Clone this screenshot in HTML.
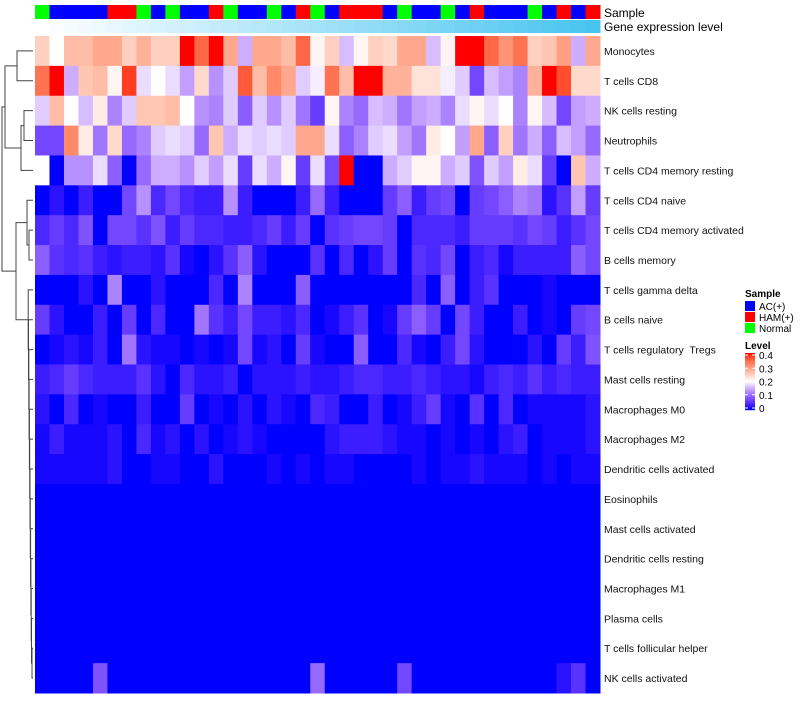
<!DOCTYPE html>
<html><head><meta charset="utf-8"><style>
body{margin:0;background:#fff;font-family:"Liberation Sans",Arial,sans-serif}
svg text{font-family:"Liberation Sans",Arial,sans-serif;white-space:pre}
</style></head><body>
<svg id="chart" width="800" height="700" xmlns="http://www.w3.org/2000/svg"></svg>
<script>
const rowLabels=["Monocytes","T cells CD8","NK cells resting","Neutrophils","T cells CD4 memory resting","T cells CD4 naive","T cells CD4 memory activated","B cells memory","T cells gamma delta","B cells naive","T cells regulatory  Tregs","Mast cells resting","Macrophages M0","Macrophages M2","Dendritic cells activated","Eosinophils","Mast cells activated","Dendritic cells resting","Macrophages M1","Plasma cells","T cells follicular helper","NK cells activated"];
const sampleGroups="GBBBBRRGBGBBRGBBGBRGBRRRBGBBGBRBBBGBRBR".split("");
const r0=[0.25,0.2,0.27,0.27,0.29,0.29,0.25,0.28,0.25,0.25,0.4,0.35,0.4,0.29,0.15,0.29,0.29,0.27,0.35,0.21,0.25,0.16,0.21,0.25,0.24,0.29,0.29,0.16,0.21,0.4,0.4,0.35,0.31,0.34,0.25,0.26,0.3,0.15,0.29];
const r1=[0.34,0.4,0.15,0.26,0.27,0.21,0.38,0.18,0.2,0.18,0.14,0.24,0.13,0.17,0.36,0.27,0.32,0.29,0.17,0.19,0.34,0.27,0.4,0.4,0.28,0.28,0.23,0.23,0.19,0.17,0.07,0.16,0.14,0.12,0.28,0.4,0.37,0.24,0.24];
const r2=[0.17,0.27,0.2,0.16,0.22,0.12,0.17,0.26,0.26,0.27,0.2,0.13,0.12,0.17,0.09,0.17,0.13,0.17,0.11,0.06,0.21,0.12,0.1,0.16,0.15,0.11,0.14,0.15,0.12,0.18,0.21,0.18,0.2,0.12,0.21,0.16,0.07,0.14,0.15];
const r3=[0.07,0.07,0.32,0.22,0.11,0.24,0.1,0.12,0.17,0.18,0.17,0.1,0.26,0.15,0.18,0.17,0.18,0.17,0.29,0.29,0.18,0.09,0.12,0.17,0.18,0.14,0.11,0.22,0.2,0.14,0.29,0.09,0.25,0.11,0.15,0.09,0.16,0.14,0.1];
const r4=[0.2,0,0.13,0.13,0.18,0.09,0,0.1,0.15,0.15,0.13,0.17,0.14,0.18,0.06,0.18,0.15,0.21,0.06,0.18,0.07,0.4,0,0,0.15,0.17,0.21,0.21,0.15,0.17,0.08,0.17,0.14,0.22,0.18,0.06,0,0.26,0.15];
const r5=[0,0.02,0,0.03,0,0,0.07,0.13,0.04,0.07,0.04,0.03,0.03,0.13,0.03,0,0,0,0.03,0.1,0.03,0,0,0,0.06,0.09,0.03,0.06,0.07,0,0.06,0.07,0.09,0.12,0.11,0.02,0.05,0.14,0.06];
const r6=[0.04,0.06,0.04,0.08,0,0.07,0.07,0.05,0.08,0.03,0.06,0.04,0.04,0.03,0.03,0.04,0.06,0.03,0.06,0,0.05,0.06,0.07,0.07,0.06,0,0.04,0.04,0.04,0.03,0.06,0.06,0.06,0.05,0.07,0.06,0.03,0.05,0.07];
const r7=[0.09,0.05,0.04,0.05,0.03,0.02,0.03,0.03,0.02,0.05,0.01,0,0.02,0.05,0.09,0.02,0,0,0,0.05,0,0.04,0,0.02,0.06,0,0.05,0.04,0.07,0,0.03,0.04,0.01,0.03,0.03,0.03,0.03,0.09,0.07];
const r8=[0,0,0,0.02,0,0.12,0,0,0.02,0,0,0,0.04,0,0.12,0,0,0,0.09,0,0,0,0,0,0,0,0.04,0,0.09,0,0.03,0.05,0,0,0,0.01,0,0,0];
const r9=[0.06,0.02,0,0,0.03,0,0.06,0,0.04,0,0,0.11,0.05,0.03,0.07,0.03,0.03,0.02,0.04,0,0.01,0.03,0.05,0,0.01,0.06,0.09,0.06,0,0.07,0.03,0,0,0.03,0,0.01,0,0.06,0.07];
const r10=[0,0.01,0.02,0.01,0.03,0,0.11,0.02,0.01,0.01,0,0.01,0,0.01,0.07,0.01,0.02,0,0.06,0.01,0,0,0.09,0,0,0.04,0.01,0,0.03,0.07,0.02,0,0,0,0.02,0,0.06,0.03,0.08];
const r11=[0.03,0.04,0.06,0.04,0.03,0.03,0.03,0.05,0.02,0,0.04,0.02,0.02,0.03,0,0.02,0.02,0.02,0.03,0.02,0.02,0.03,0.04,0.04,0.03,0.03,0.04,0.03,0.02,0.02,0.01,0.03,0.04,0.03,0.05,0.03,0.04,0.03,0.03];
const r12=[0.02,0,0.04,0,0.01,0,0,0.03,0,0,0.06,0,0.01,0,0.02,0,0.02,0.01,0,0.04,0.03,0,0,0.03,0,0.01,0.03,0.06,0.01,0,0.05,0,0.04,0,0.01,0.01,0.01,0.01,0.02];
const r13=[0.01,0.03,0.01,0.01,0.01,0.02,0,0.04,0.01,0.02,0,0.02,0,0.01,0.02,0.01,0,0,0,0,0.02,0.03,0.03,0.03,0.02,0.01,0.01,0,0.01,0,0.01,0,0.02,0.03,0,0.01,0.01,0.01,0.02];
const r14=[0.01,0.01,0.01,0.01,0.01,0.02,0,0,0.01,0.01,0,0,0.02,0,0,0,0.01,0,0.01,0,0.01,0.01,0,0,0,0,0.01,0,0.01,0.01,0.02,0.01,0.01,0.01,0,0.01,0,0.01,0.01];
const zeros=new Array(39).fill(0);
const r21=[0,0,0,0,0.08,0,0,0,0,0,0,0,0,0,0,0,0,0,0,0.1,0,0,0,0,0,0.07,0,0,0,0,0,0,0,0,0,0,0.02,0.05,0];
const matrix=[r0,r1,r2,r3,r4,r5,r6,r7,r8,r9,r10,r11,r12,r13,r14,zeros,zeros,zeros,zeros,zeros,zeros,r21];
const levelTicks=[0,0.1,0.2,0.3,0.4];
const legendSamples=["AC(+)","HAM(+)","Normal"];

const NS="http://www.w3.org/2000/svg";
const svg=document.getElementById('chart');
function mk(tag,attrs,parent){const e=document.createElementNS(NS,tag);for(const k in attrs)e.setAttribute(k,attrs[k]);(parent||svg).appendChild(e);return e;}
function s2l(c){c/=255;return c<=0.04045?c/12.92:Math.pow((c+0.055)/1.055,2.4);}
function l2s(c){c=c<=0.0031308?12.92*c:1.055*Math.pow(c,1/2.4)-0.055;return Math.round(Math.max(0,Math.min(1,c))*255);}
function toLab(rgb){const r=s2l(rgb[0]),g=s2l(rgb[1]),b=s2l(rgb[2]);let X=(0.4124*r+0.3576*g+0.1805*b)/0.95047,Y=0.2126*r+0.7152*g+0.0722*b,Z=(0.0193*r+0.1192*g+0.9505*b)/1.08883;const f=t=>t>0.008856?Math.cbrt(t):7.787*t+16/116;const fx=f(X),fy=f(Y),fz=f(Z);return[116*fy-16,500*(fx-fy),200*(fy-fz)];}
function fromLab(l){const fy=(l[0]+16)/116,fx=fy+l[1]/500,fz=fy-l[2]/200;const fi=t=>t*t*t>0.008856?t*t*t:(t-16/116)/7.787;const X=fi(fx)*0.95047,Y=fi(fy),Z=fi(fz)*1.08883;const r=3.2406*X-1.5372*Y-0.4986*Z,g=-0.9689*X+1.8758*Y+0.0415*Z,b=0.0557*X-0.2040*Y+1.0570*Z;return`rgb(${l2s(r)},${l2s(g)},${l2s(b)})`;}
const LB=toLab([0,0,255]),LW=toLab([255,255,255]),LR=toLab([255,0,0]);
function color(v){v=Math.max(0,Math.min(0.4,v));let a,b,t;if(v<=0.2){a=LB;b=LW;t=Math.pow(v/0.2,1.5);}else{a=LW;b=LR;t=(v-0.2)/0.2;}return fromLab([0,1,2].map(i=>a[i]+(b[i]-a[i])*t));}
const X0=35,X1=600,Y0=36,Y1=693;
const nC=sampleGroups.length,nR=rowLabels.length;
const cw=(X1-X0)/nC,rh=(Y1-Y0)/nR;
const xPos=i=>X0+i*cw, yPos=j=>Y0+j*rh;
const grpColor={G:"#00ff00",B:"#0000ff",R:"#ff0000"};
sampleGroups.forEach((g,i)=>{
 const r=mk('rect',{x:xPos(i),y:5,width:cw+0.5,height:14,fill:grpColor[g]});
 
 
 const t=i/(nC-1);
 const c=`rgb(${Math.round(255-t*(255-72))},${Math.round(255-t*(255-196))},${Math.round(255-t*(255-240))})`;
 const e=mk('rect',{x:xPos(i),y:20,width:cw+0.5,height:13,fill:c});
 
 
});
let t1=mk('text',{x:604,y:17,'font-size':12});t1.textContent="Sample";

let t2=mk('text',{x:604,y:31,'font-size':12});t2.textContent="Gene expression level";

matrix.forEach((row,j)=>{
 row.forEach((v,i)=>{
  const r=mk('rect',{x:xPos(i),y:yPos(j),width:cw+0.5,height:rh+0.5,fill:color(v)});
  
  
 });
 const l=mk('text',{x:604,y:yPos(j)+rh/2+4,'font-size':10.5,fill:'#111'});
 l.textContent=rowLabels[j];
 
 
});
const cy=j=>yPos(j)+rh/2;
const dg=mk('g',{stroke:'#444','stroke-width':1,fill:'none'});

function link(xa,ya,xb,yb,xn){mk('path',{d:`M${xa},${ya}H${xn}V${yb}H${xb}`},dg);return(ya+yb)/2;}
const yA1=link(33,cy(0),33,cy(1),17);
const yA2=link(33,cy(2),33,cy(3),24);
const yA3=link(24,yA2,33,cy(4),21);
const yA=link(17,yA1,21,yA3,5);
let yc=link(33,cy(20),33,cy(21),32);let xc=32;
for(let j=19;j>=8;j--){yc=link(33,cy(j),xc,yc,31.5-(19-j)*0.3);xc=31.5-(19-j)*0.3;}
const yB2=link(33,cy(6),33,cy(7),29);
const yB3=link(33,cy(5),29,yB2,27);
const yB=link(27,yB3,xc,yc,16);
link(5,yA,16,yB,2);
const lg=mk('g',{});
let ls=mk('text',{x:745,y:297,'font-size':10,'font-weight':'bold'},lg);ls.textContent="Sample";
const lc=["#0000ff","#ff0000","#00ff00"];
legendSamples.forEach((s,k)=>{
 const r=mk('rect',{x:745,y:301+k*11,width:10,height:10,fill:lc[k]},lg);
 
 const t=mk('text',{x:759,y:310+k*11,'font-size':10},lg);t.textContent=s;
});
let ll=mk('text',{x:745,y:349,'font-size':10,'font-weight':'bold'},lg);ll.textContent="Level";
const cbTop=353,cbBot=410;
for(let k=0;k<57;k++){const v=0.4*(1-k/56);mk('rect',{x:745,y:cbTop+k,width:10,height:1.2,fill:color(v)},lg);}
levelTicks.forEach(v=>{
 const y=cbBot-2-(v/0.4)*(cbBot-cbTop-4);
 mk('line',{x1:745,x2:748,y1:y,y2:y,stroke:'#fff'},lg);
 mk('line',{x1:752,x2:755,y1:y,y2:y,stroke:'#fff'},lg);
 const t=mk('text',{x:759,y:y+4,'font-size':10},lg);t.textContent=String(v);
 
});
</script>
</body></html>
